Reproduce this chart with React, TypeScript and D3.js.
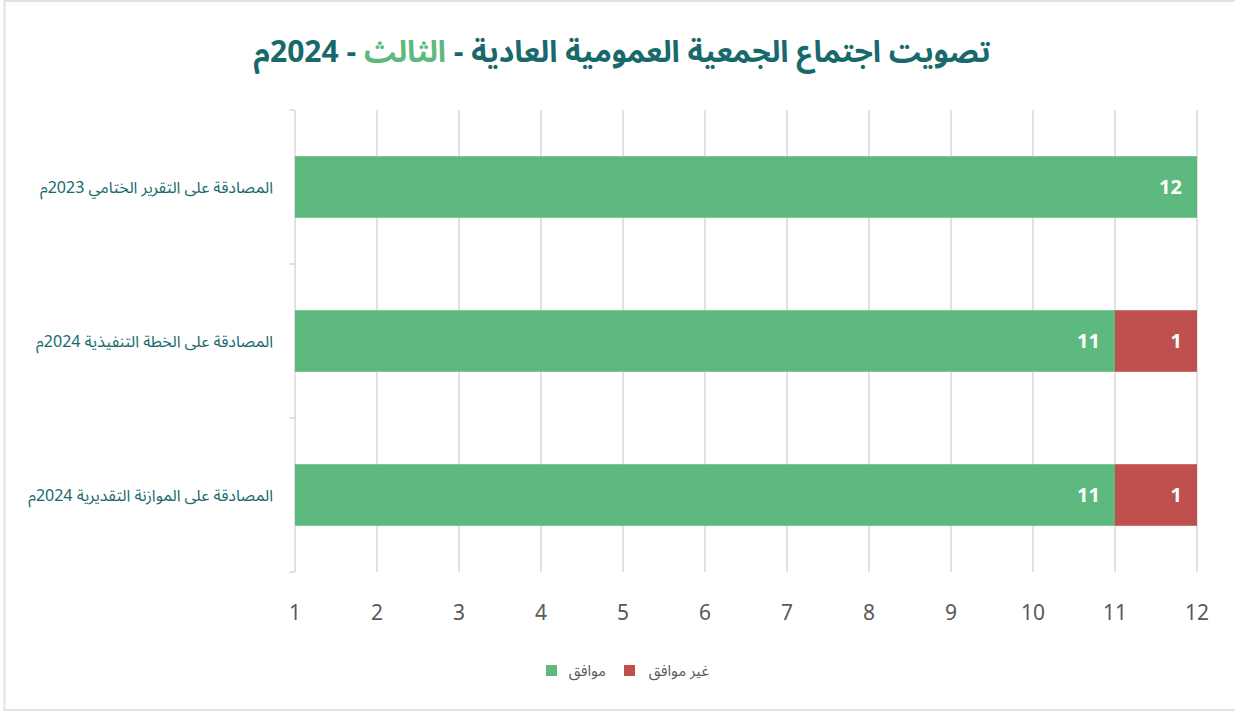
import React from "react";
import * as d3 from "d3";

const categories = [
  "المصادقة على التقرير الختامي 2023م",
  "المصادقة على الخطة التنفيذية 2024م",
  "المصادقة على الموازنة التقديرية 2024م",
];
const agreeValues = [12, 11, 11];
const disagreeValues = [0, 1, 1];
const xTicks = [1, 2, 3, 4, 5, 6, 7, 8, 9, 10, 11, 12];
const seriesNames = ["موافق", "غير موافق"];
const titleParts = ["تصويت اجتماع الجمعية العمومية العادية - ", "الثالث", " - 2024م"];

const W = 1235;
const H = 713;
const GREEN = "#5eb97f";
const RED = "#c0504d";
const TEAL = "#17696b";
const GRID = "#d9d9d9";
const FONT = "'Noto Sans Arabic', 'Noto Sans', 'DejaVu Sans', sans-serif";

export default function App() {
  const x = d3.scaleLinear().domain([1, 12]).range([295, 1197]);
  const y = d3.scaleBand<string>().domain(categories).range([110, 572]).paddingInner(0.6).paddingOuter(0.3);
  const bandStep = y.step();
  const bounds = d3.range(categories.length + 1).map((i) => 110 + i * bandStep);

  return (
    <svg
      width={W}
      height={H}
      style={{ position: "absolute", left: 0, top: 0, background: "#fff" }}
      fontFamily={FONT}
    >
      <rect x={4.5} y={1} width={1240} height={709} fill="#fff" stroke="#e3e3e3" strokeWidth={2} />
      {/* title */}
      <text x={622} y={62} textAnchor="middle" direction="rtl" fontSize={30} fontWeight="bold" fill={TEAL}>
        <tspan>{titleParts[0]}</tspan>
        <tspan fill={GREEN}>{titleParts[1]}</tspan>
        <tspan>{titleParts[2]}</tspan>
      </text>
      {/* gridlines */}
      {xTicks.slice(1).map((t) => (
        <line key={t} x1={x(t)} x2={x(t)} y1={110} y2={572} stroke={GRID} strokeWidth={1.5} />
      ))}
      {/* category axis */}
      <line x1={x(1)} x2={x(1)} y1={110} y2={572} stroke={GRID} strokeWidth={1.5} />
      {bounds.map((b, i) => (
        <line key={i} x1={x(1) - 6} x2={x(1)} y1={b} y2={b} stroke={GRID} strokeWidth={1.5} />
      ))}
      {/* bars */}
      {categories.map((c, i) => {
        const y0 = y(c)!;
        const h = y.bandwidth();
        const a = agreeValues[i];
        const d = disagreeValues[i];
        return (
          <g key={c}>
            <rect x={x(1)} y={y0} width={x(a) - x(1)} height={h} fill={GREEN} />
            {d > 0 && <rect x={x(a)} y={y0} width={x(a + d) - x(a)} height={h} fill={RED} />}
            <text x={x(a) - 15} y={y0 + h / 2} dy="0.35em" textAnchor="end" fill="#fff" fontSize={20} fontWeight="bold">
              {a}
            </text>
            {d > 0 && (
              <text x={x(a + d) - 15} y={y0 + h / 2} dy="0.35em" textAnchor="end" fill="#fff" fontSize={20} fontWeight="bold">
                {d}
              </text>
            )}
            <text x={273} y={y0 + h / 2} dy="0.35em" textAnchor="start" direction="rtl" fill={TEAL} fontSize={16}>
              {c}
            </text>
          </g>
        );
      })}
      {/* x tick labels */}
      {xTicks.map((t) => (
        <text key={t} x={x(t)} y={620} textAnchor="middle" fill="#595959" fontSize={21}>
          {t}
        </text>
      ))}
      {/* legend */}
      <rect x={546} y={665} width={11} height={11} fill={GREEN} />
      <text x={606} y={676} textAnchor="start" direction="rtl" fill="#595959" fontSize={15}>
        {seriesNames[0]}
      </text>
      <rect x={624} y={665} width={11} height={11} fill={RED} />
      <text x={709} y={676} textAnchor="start" direction="rtl" fill="#595959" fontSize={15}>
        {seriesNames[1]}
      </text>
    </svg>
  );
}
